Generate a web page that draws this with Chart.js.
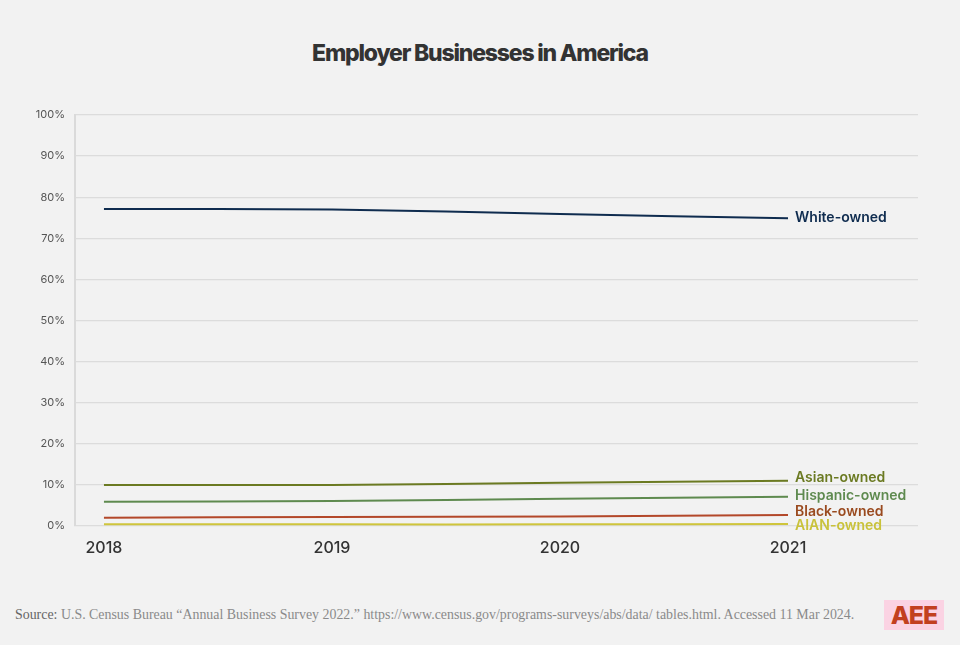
<!DOCTYPE html>
<html>
<head>
<meta charset="utf-8">
<script src="https://cdn.jsdelivr.net/npm/chart.js@4.4.1/dist/chart.umd.min.js"></script>
<style>
  html, body { margin: 0; padding: 0; background: #f2f2f2; }
  body { width: 960px; height: 645px; position: relative; overflow: hidden; }
  #title {
    position: absolute; top: 39px; left: 0; width: 960px; text-align: center;
    font-family: Inter, "Open Sans", sans-serif; font-weight: 800; font-size: 23px;
    letter-spacing: -1.2px; color: #333; padding-left: 0px;
  }
  #wrap { position: absolute; left: 0; top: 96px; width: 960px; height: 470px; }
  #source {
    position: absolute; left: 15px; top: 607px;
    font-family: "Liberation Serif", serif; font-size: 13.9px; color: #8a8a8a;
  }
  #source b { font-weight: normal; color: #666; }
  #logo {
    position: absolute; left: 884px; top: 600px; width: 60px; height: 30px;
    background: #fbd3e3; color: #c2401f; text-align: center;
    font-family: Inter, sans-serif; font-weight: 800; font-size: 25px; line-height: 30px;
    letter-spacing: -1px;
  }
</style>
</head>
<body>
<div id="title">Employer Businesses in America</div>
<div id="wrap"><canvas id="chart"></canvas></div>
<div id="source"><b>Source:</b> U.S. Census Bureau “Annual Business Survey 2022.” https://www.census.gov/programs-surveys/abs/data/ tables.html. Accessed 11 Mar 2024.</div>
<div id="logo">AEE</div>
<script>
const years = [2018, 2019, 2020, 2021];
const whiteOwned = [77.1, 77.0, 75.9, 74.9];
const asianOwned = [10.0, 10.0, 10.5, 11.0];
const hispanicOwned = [5.9, 6.1, 6.6, 7.1];
const blackOwned = [2.0, 2.2, 2.3, 2.7];
const aianOwned = [0.4, 0.4, 0.4, 0.5];
const seriesNames = ['White-owned', 'Asian-owned', 'Hispanic-owned', 'Black-owned', 'AIAN-owned'];
const yTicks = [0, 10, 20, 30, 40, 50, 60, 70, 80, 90, 100];

const lineColors = ['#0f2c4f', '#6b7a22', '#5e8a4f', '#b3482a', '#cfc53c'];
const labelColors = ['#0f2c4f', '#6b7a22', '#5e8a4f', '#9a4a1f', '#c9c23a'];
const labelNudge = [0, -3, -1, -3, 2];

const allSeries = [whiteOwned, asianOwned, hispanicOwned, blackOwned, aianOwned];

const datasets = allSeries.map((vals, i) => ({
  label: seriesNames[i],
  data: vals.map((v, j) => ({ x: years[j], y: v })),
  borderColor: lineColors[i],
  borderWidth: 2,
  pointRadius: 0,
  tension: 0.3,
  fill: false
}));

// end-of-line labels
const endLabels = {
  id: 'endLabels',
  afterDatasetsDraw(chart) {
    const ctx = chart.ctx;
    ctx.save();
    ctx.font = '600 14px Inter, sans-serif';
    ctx.textBaseline = 'middle';
    chart.data.datasets.forEach((ds, i) => {
      const meta = chart.getDatasetMeta(i);
      const last = meta.data[meta.data.length - 1];
      ctx.fillStyle = labelColors[i];
      ctx.fillText(ds.label, last.x + 7, last.y + labelNudge[i]);
    });
    ctx.restore();
  }
};

new Chart(document.getElementById('chart'), {
  type: 'line',
  data: { datasets },
  options: {
    responsive: true,
    maintainAspectRatio: false,
    animation: false,
    layout: { padding: { top: 19, right: 42, left: 0, bottom: 0 } },
    plugins: { legend: { display: false }, tooltip: { enabled: false } },
    scales: {
      x: {
        type: 'linear',
        min: 2017.873,
        max: 2021.57,
        afterBuildTicks: axis => { axis.ticks = years.map(v => ({ value: v })); },
        afterFit: axis => { axis.height = 40; },
        grid: { display: false, drawTicks: false },
        border: { display: false },
        ticks: {
          color: '#333',
          font: { family: 'Inter, sans-serif', size: 16, weight: 500 },
          padding: 13,
          callback: v => String(v)
        }
      },
      y: {
        min: 0,
        max: 100,
        afterBuildTicks: axis => { axis.ticks = yTicks.map(v => ({ value: v })); },
        afterFit: axis => { axis.width = 75; },
        grid: { color: '#dcdcdc', lineWidth: 1.3, drawTicks: false },
        border: { display: true, color: '#dadada', width: 2 },
        ticks: {
          color: '#555',
          font: { family: 'Inter, sans-serif', size: 11 },
          padding: 10,
          callback: v => v + '%'
        }
      }
    }
  },
  plugins: [endLabels]
});
</script>
</body>
</html>
